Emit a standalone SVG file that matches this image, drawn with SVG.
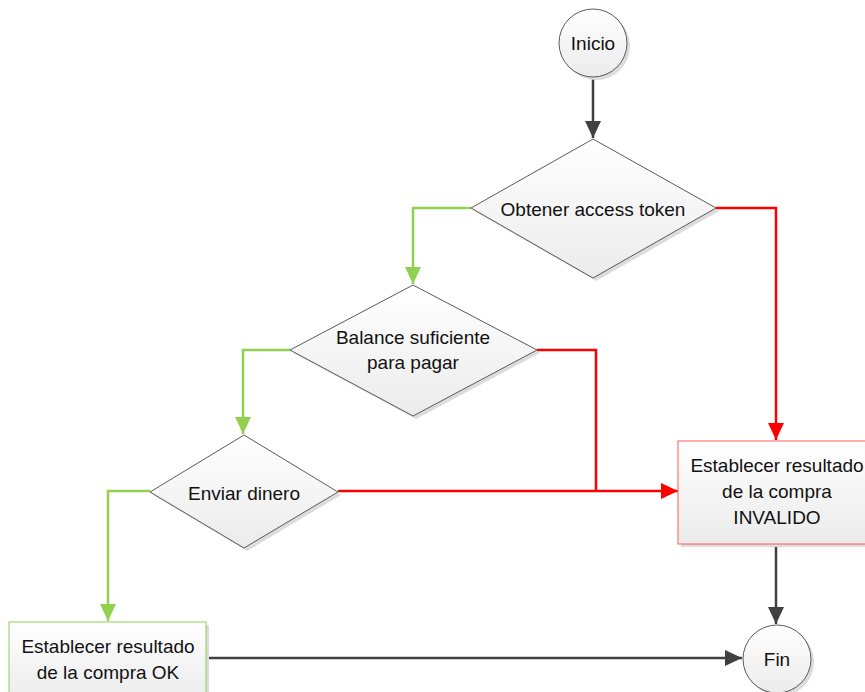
<svg xmlns="http://www.w3.org/2000/svg" width="865" height="692" viewBox="0 0 865 692">
  <style>
    .shape { fill: url(#fillGrad); stroke: #5a5a5a; stroke-width: 1; }
    .shadow { fill: #dcdcdc; stroke: none; }
    .lbl { font-family: "Liberation Sans", Arial, sans-serif; font-size: 19px; fill: #111; text-anchor: middle; }
    .dark { fill: none; stroke: #404040; stroke-width: 2.5; }
    .green { fill: none; stroke: #92d050; stroke-width: 2.5; }
    .red { fill: none; stroke: #ff0000; stroke-width: 2.5; }
  </style>
  <defs>
    <linearGradient id="fillGrad" x1="0" y1="0" x2="0" y2="1">
      <stop offset="0" stop-color="#ffffff"/>
      <stop offset="1" stop-color="#ebebeb"/>
    </linearGradient>
    <marker id="arrDark" markerUnits="userSpaceOnUse" markerWidth="18" markerHeight="18" viewBox="0 0 18 18" refX="17" refY="9" orient="auto">
      <path d="M0,1 L17,9 L0,17 Z" fill="#404040"/>
    </marker>
    <marker id="arrGreen" markerUnits="userSpaceOnUse" markerWidth="18" markerHeight="18" viewBox="0 0 18 18" refX="17" refY="9" orient="auto">
      <path d="M0,1 L17,9 L0,17 Z" fill="#92d050"/>
    </marker>
    <marker id="arrRed" markerUnits="userSpaceOnUse" markerWidth="18" markerHeight="18" viewBox="0 0 18 18" refX="17" refY="9" orient="auto">
      <path d="M0,1 L17,9 L0,17 Z" fill="#ff0000"/>
    </marker>
  </defs>

  <!-- connectors -->
  <g id="connectors">
    <path class="dark" d="M593,77 L593,138" marker-end="url(#arrDark)"/>
    <path class="green" d="M471,208 L413,208 L413,284" marker-end="url(#arrGreen)"/>
    <path class="red" d="M716,208 L776,208 L776,440" marker-end="url(#arrRed)"/>
    <path class="green" d="M290,350 L243,350 L243,434" marker-end="url(#arrGreen)"/>
    <path class="red" d="M537,350 L596,350 L596,491"/>
    <path class="red" d="M338,491 L678,491" marker-end="url(#arrRed)"/>
    <path class="green" d="M150,491 L108,491 L108,621" marker-end="url(#arrGreen)"/>
    <path class="dark" d="M776,544 L776,624" marker-end="url(#arrDark)"/>
    <path class="dark" d="M206,658 L742,658" marker-end="url(#arrDark)"/>
  </g>

  <!-- start -->
  <g id="inicio">
    <circle class="shadow" cx="596" cy="46" r="34"/>
    <circle class="shape" cx="593" cy="43" r="34"/>
    <text class="lbl" x="593" y="50">Inicio</text>
  </g>

  <g id="obtener-token">
    <polygon class="shadow" points="596,142 719,211 596,281 474,211"/>
    <polygon class="shape" points="593,139 716,208 593,278 471,208"/>
    <text class="lbl" x="593" y="216">Obtener access token</text>
  </g>

  <g id="balance">
    <polygon class="shadow" points="416,288 540,353 416,419 293,353"/>
    <polygon class="shape" points="413,285 537,350 413,416 290,350"/>
    <text class="lbl" x="413" y="344">Balance suficiente</text>
    <text class="lbl" x="413" y="369">para pagar</text>
  </g>

  <g id="enviar">
    <polygon class="shadow" points="247,438 341,495 247,551 153,495"/>
    <polygon class="shape" points="244,435 338,492 244,548 150,492"/>
    <text class="lbl" x="244" y="500">Enviar dinero</text>
  </g>

  <g id="resultado-invalido">
    <rect class="shadow" x="681" y="444" width="198" height="103"/>
    <rect x="678" y="441" width="198" height="103" fill="url(#fillGrad)" stroke="#ff5a5a" stroke-width="1"/>
    <text class="lbl" x="777" y="472">Establecer resultado</text>
    <text class="lbl" x="777" y="498">de la compra</text>
    <text class="lbl" x="777" y="524">INVALIDO</text>
  </g>

  <g id="resultado-ok">
    <rect class="shadow" x="12" y="625" width="197" height="80"/>
    <rect x="9" y="622" width="197" height="80" fill="url(#fillGrad)" stroke="#92d050" stroke-width="1"/>
    <text class="lbl" x="108" y="653">Establecer resultado</text>
    <text class="lbl" x="108" y="679">de la compra OK</text>
  </g>

  <g id="fin">
    <circle class="shadow" cx="780" cy="662" r="34"/>
    <circle class="shape" cx="777" cy="659" r="34"/>
    <text class="lbl" x="777" y="666">Fin</text>
  </g>
</svg>
